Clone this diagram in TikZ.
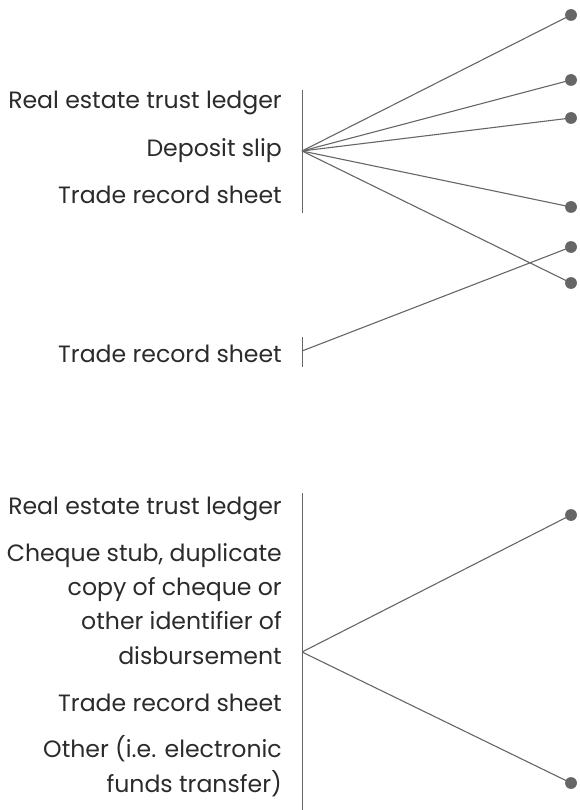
\documentclass[tikz,border=0pt]{standalone}
\usepackage{fontspec}
\setmainfont{Poppins}
\definecolor{txt}{HTML}{2B2B2B}
\definecolor{ln}{HTML}{666666}
\definecolor{dotc}{HTML}{666666}
\begin{document}
\begin{tikzpicture}[x=1pt,y=-1pt,
  lbl/.style={anchor=base east,inner sep=0pt,text=txt,font=\fontsize{23.6}{34}\selectfont},
  dotn/.style={circle,fill=dotc,inner sep=0pt,minimum size=11.5pt},
  conn/.style={draw=ln,line width=1.1pt},
  bar/.style={draw=ln,line width=0.9pt}]
\useasboundingbox (0,0) rectangle (579,810);
% group 1
\node[lbl] (g1a) at (282,109) {Real estate trust ledger};
\node[lbl] (g1b) at (282,157) {Deposit slip};
\node[lbl] (g1c) at (282,204) {Trade record sheet};
\coordinate (b1t) at (302,90);
\coordinate (b1b) at (302,213);
\coordinate (c1) at (302,151);
\draw[bar] (b1t) -- (b1b);
% group 2
\node[lbl] (g2a) at (282,362) {Trade record sheet};
\coordinate (b2t) at (302,337);
\coordinate (b2b) at (302,367);
\coordinate (c2) at (302,351);
\draw[bar] (b2t) -- (b2b);
% group 3
\node[lbl] (g3a) at (282,514) {Real estate trust ledger};
\node[lbl] (g3b1) at (282,561) {Cheque stub, duplicate};
\node[lbl] (g3b2) at (282,595) {copy of cheque or};
\node[lbl] (g3b3) at (282,629) {other identifier of};
\node[lbl] (g3b4) at (282,664) {disbursement};
\node[lbl] (g3c) at (282,711) {Trade record sheet};
\node[lbl] (g3d1) at (282,757) {Other (i.e. electronic};
\node[lbl] (g3d2) at (282,792) {funds transfer)};
\coordinate (b3t) at (302,493);
\coordinate (b3b) at (302,810);
\coordinate (c3) at (302,652);
\draw[bar] (b3t) -- (b3b);
% dots
\node[dotn] (d1) at (571,15) {};
\node[dotn] (d2) at (571,80) {};
\node[dotn] (d3) at (571,118) {};
\node[dotn] (d4) at (571,207) {};
\node[dotn] (d5) at (571,247) {};
\node[dotn] (d6) at (571,283) {};
\node[dotn] (d7) at (571,515) {};
\node[dotn] (d8) at (571,783) {};
% connectors
\draw[conn] (c1) -- (d1.center);
\draw[conn] (c1) -- (d2.center);
\draw[conn] (c1) -- (d3.center);
\draw[conn] (c1) -- (d4.center);
\draw[conn] (c1) -- (d6.center);
\draw[conn] (c2) -- (d5.center);
\draw[conn] (c3) -- (d7.center);
\draw[conn] (c3) -- (d8.center);
\foreach \d in {d1,d2,d3,d4,d5,d6,d7,d8} \node[dotn] at (\d) {};
\end{tikzpicture}
\end{document}
